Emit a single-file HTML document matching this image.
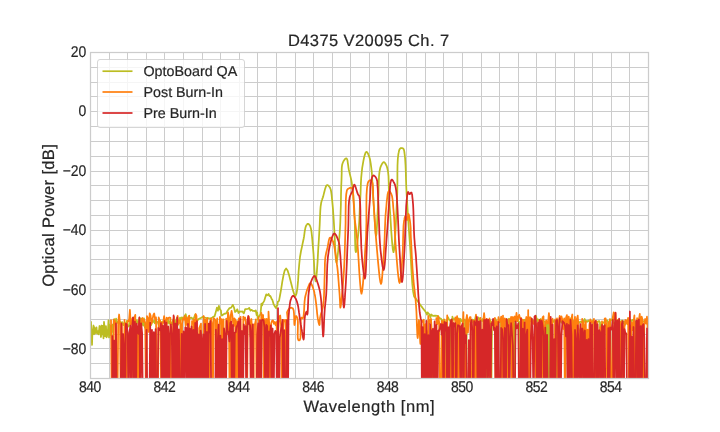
<!DOCTYPE html>
<html><head><meta charset="utf-8"><style>
html,body{margin:0;padding:0;background:#fff;}
svg{display:block;will-change:transform;}
text{font-family:"Liberation Sans",sans-serif;fill:#262626;stroke:#262626;stroke-width:0.2px;text-rendering:geometricPrecision;}
</style></head><body>
<svg width="720" height="432" viewBox="0 0 720 432">
<rect width="720" height="432" fill="#fff"/>
<path d="M90.50 52.5V378.5M109.50 52.5V378.5M127.50 52.5V378.5M146.50 52.5V378.5M164.50 52.5V378.5M183.50 52.5V378.5M202.50 52.5V378.5M220.50 52.5V378.5M239.50 52.5V378.5M257.50 52.5V378.5M276.50 52.5V378.5M295.50 52.5V378.5M313.50 52.5V378.5M332.50 52.5V378.5M350.50 52.5V378.5M369.50 52.5V378.5M388.50 52.5V378.5M406.50 52.5V378.5M425.50 52.5V378.5M443.50 52.5V378.5M462.50 52.5V378.5M481.50 52.5V378.5M499.50 52.5V378.5M518.50 52.5V378.5M536.50 52.5V378.5M555.50 52.5V378.5M574.50 52.5V378.5M592.50 52.5V378.5M611.50 52.5V378.5M629.50 52.5V378.5M648.50 52.5V378.5M90.5 52.50H648.5M90.5 67.50H648.5M90.5 82.50H648.5M90.5 96.50H648.5M90.5 111.50H648.5M90.5 126.50H648.5M90.5 141.50H648.5M90.5 156.50H648.5M90.5 171.50H648.5M90.5 185.50H648.5M90.5 200.50H648.5M90.5 215.50H648.5M90.5 230.50H648.5M90.5 245.50H648.5M90.5 259.50H648.5M90.5 274.50H648.5M90.5 289.50H648.5M90.5 304.50H648.5M90.5 319.50H648.5M90.5 334.50H648.5M90.5 348.50H648.5M90.5 363.50H648.5M90.5 378.50H648.5" stroke="#cccccc" stroke-width="1" fill="none"/>
<defs><clipPath id="ax"><rect x="90.5" y="52.5" width="558.0" height="326.0"/></clipPath></defs>
<g clip-path="url(#ax)" fill="none" stroke-width="1.75" stroke-linejoin="round" stroke-linecap="butt">
<path d="M88.0 334.5 L88.5 327.7 L89.0 345.3 L89.5 332.1 L90.0 337.3 L90.5 328.3 L91.0 321.9 L91.5 333.2 L92.0 344.9 L92.5 329.8 L93.0 330.5 L93.5 325.5 L94.0 334.3 L94.5 327.3 L95.0 333.5 L95.5 332.1 L96.0 330.8 L96.5 327.3 L97.0 333.5 L97.5 333.1 L98.0 331.1 L98.5 334.4 L99.0 330.6 L99.5 326.0 L100.0 326.6 L100.5 333.6 L101.0 337.0 L101.5 325.5 L102.0 334.5 L102.5 325.9 L103.0 329.6 L103.5 338.4 L104.0 321.8 L104.5 326.8 L105.0 336.2 L105.5 330.5 L106.0 326.2 L106.5 337.3 L107.0 336.3 L107.5 330.9 L108.0 329.2 L108.5 320.4 L109.0 337.4 L109.5 324.7 L110.0 335.0 L110.5 326.9 L111.0 325.8 L111.5 337.7 L112.0 328.3 L112.5 332.0 L112.5 324.6 L113.4 326.3 L114.3 319.2 L115.2 324.0 L116.1 318.7 L117.0 322.6 L117.9 322.3 L118.8 323.9 L119.7 321.7 L120.6 322.7 L121.5 322.6 L122.4 322.1 L123.3 325.2 L124.2 323.3 L125.1 323.2 L126.0 324.7 L126.9 320.8 L127.8 325.0 L128.7 326.5 L129.6 324.9 L130.5 318.8 L131.4 320.8 L132.3 323.7 L133.2 319.9 L134.1 322.9 L135.0 320.8 L135.9 322.8 L136.8 320.2 L137.7 322.8 L138.6 321.4 L139.5 317.6 L140.4 322.7 L141.3 318.7 L142.2 322.0 L143.1 325.6 L144.0 318.3 L144.9 327.7 L145.8 323.4 L146.7 324.8 L147.6 323.5 L148.5 319.1 L149.4 324.0 L150.3 324.9 L151.2 325.0 L152.1 321.8 L153.0 321.9 L153.9 320.7 L154.8 323.3 L155.7 318.7 L156.6 321.8 L157.5 321.8 L158.4 324.1 L159.3 322.3 L160.2 321.0 L161.1 322.4 L162.0 322.2 L162.9 322.6 L163.8 320.1 L164.7 319.9 L165.6 322.3 L166.5 323.1 L167.4 322.9 L168.3 320.0 L169.2 323.7 L170.1 321.4 L171.0 323.2 L171.9 324.3 L172.8 320.3 L173.7 325.3 L174.6 320.8 L175.5 322.9 L176.4 319.1 L177.3 320.7 L178.2 324.7 L180.0 317.7 L180.5 321.0 L181.8 317.3 L183.6 318.4 L185.7 314.2 L187.8 323.9 L189.7 318.0 L191.5 317.6 L193.3 319.6 L195.2 314.6 L197.1 320.9 L198.9 318.8 L200.8 318.1 L202.7 316.8 L204.7 317.5 L206.6 318.2 L208.5 318.2 L210.4 318.8 L212.0 317.8 L213.4 316.6 L214.6 316.3 L215.8 312.1 L216.9 307.7 L217.9 310.7 L218.9 305.9 L219.6 308.7 L220.3 309.8 L220.9 310.4 L221.5 315.5 L222.2 315.4 L223.0 314.7 L224.4 313.7 L226.0 313.6 L227.7 310.5 L229.5 308.1 L231.2 307.7 L232.8 304.8 L234.0 307.5 L235.1 312.0 L236.2 311.1 L237.3 309.3 L238.5 313.0 L239.7 311.4 L241.0 311.6 L242.4 311.4 L243.8 313.4 L245.2 309.0 L246.6 309.0 L248.0 308.9 L249.2 307.9 L250.5 310.6 L251.7 309.8 L252.9 311.0 L254.0 310.9 L255.0 311.3 L255.8 310.4 L256.6 315.2 L257.2 312.5 L257.8 319.7 L258.4 317.3 L259.0 316.6 L259.8 315.0 L260.4 314.7 L260.9 309.8 L261.4 303.7 L262.1 305.5 L262.8 303.0 L263.6 302.0 L264.4 300.3 L265.3 297.2 L266.2 294.4 L267.1 295.3 L268.0 294.8 L268.6 293.9 L269.2 295.6 L269.8 296.2 L270.4 296.0 L271.0 297.3 L271.5 298.7 L272.3 299.8 L273.0 302.0 L273.6 304.2 L274.3 305.4 L274.9 306.6 L275.6 307.6 L276.2 308.2 L276.7 305.6 L277.3 305.7 L277.9 301.5 L278.4 301.4 L279.0 300.9 L280.1 295.0 L281.2 288.8 L282.3 281.7 L283.5 275.2 L284.7 270.4 L286.1 268.5 L287.6 270.5 L289.2 275.6 L290.9 282.3 L292.6 288.9 L294.1 294.0 L295.4 296.0 L296.5 293.7 L297.4 288.1 L298.1 280.4 L298.6 271.8 L299.3 263.5 L300.0 257.0 L300.6 253.5 L301.2 250.2 L301.9 247.1 L302.5 244.1 L303.1 241.3 L303.7 238.5 L304.1 236.2 L304.4 233.8 L304.7 231.4 L305.1 229.3 L305.5 227.4 L306.0 226.0 L306.3 225.4 L306.6 224.9 L307.0 224.5 L307.3 224.1 L307.7 223.9 L308.0 223.8 L308.4 223.9 L308.8 224.2 L309.2 224.6 L309.6 225.1 L310.0 225.8 L310.3 226.5 L311.0 228.8 L311.5 231.9 L311.9 235.5 L312.3 239.6 L312.6 243.7 L313.0 247.8 L313.5 253.7 L313.9 260.9 L314.3 268.3 L314.7 274.9 L315.2 279.6 L315.6 281.4 L316.2 278.6 L316.9 271.3 L317.6 261.1 L318.2 249.7 L318.9 238.8 L319.4 230.0 L319.7 224.8 L319.9 219.8 L320.1 215.0 L320.3 210.6 L320.6 206.6 L321.1 203.3 L321.4 201.9 L321.7 200.7 L322.1 199.7 L322.4 198.6 L322.8 197.6 L323.2 196.4 L323.7 194.4 L324.3 192.0 L324.9 189.6 L325.6 187.4 L326.3 185.7 L327.0 185.0 L327.5 185.0 L328.0 185.3 L328.6 185.8 L329.1 186.5 L329.7 187.2 L330.1 188.0 L330.7 189.5 L331.1 191.3 L331.4 193.4 L331.7 195.7 L331.9 198.1 L332.2 200.6 L332.6 204.8 L333.0 209.4 L333.3 214.4 L333.7 219.6 L334.0 224.9 L334.3 230.0 L334.6 236.1 L335.0 243.2 L335.3 250.3 L335.6 256.5 L336.0 260.9 L336.4 262.6 L336.9 261.0 L337.5 256.8 L338.2 250.8 L338.8 243.8 L339.4 236.6 L339.9 230.0 L340.3 222.0 L340.6 213.2 L340.9 204.0 L341.0 195.1 L341.2 186.9 L341.5 180.0 L341.6 176.5 L341.7 173.2 L341.7 170.2 L341.8 167.5 L342.1 165.1 L342.7 163.0 L343.2 161.9 L343.8 160.7 L344.5 159.7 L345.2 158.9 L345.9 158.4 L346.4 158.3 L347.0 159.0 L347.5 160.6 L347.8 162.8 L348.2 165.3 L348.5 167.8 L348.9 170.0 L349.4 172.0 L349.8 173.9 L350.3 175.9 L350.8 177.9 L351.3 180.1 L351.7 182.5 L352.3 186.6 L352.8 191.1 L353.3 196.0 L353.7 201.2 L354.1 206.4 L354.4 211.7 L354.7 219.0 L354.9 227.7 L355.0 236.6 L355.2 244.4 L355.4 250.0 L355.8 252.2 L356.2 251.1 L356.7 248.2 L357.2 244.1 L357.7 239.3 L358.2 234.4 L358.6 230.0 L359.0 225.3 L359.3 220.4 L359.5 215.4 L359.7 210.2 L359.9 205.1 L360.2 200.0 L360.5 194.6 L360.7 188.9 L360.9 183.3 L361.2 177.7 L361.7 172.5 L362.2 167.8 L362.8 164.4 L363.4 160.9 L364.1 157.5 L364.9 154.6 L365.6 152.6 L366.4 151.8 L366.9 152.0 L367.4 152.6 L367.9 153.4 L368.3 154.5 L368.8 155.6 L369.2 156.7 L369.7 158.2 L370.1 159.8 L370.4 161.6 L370.7 163.5 L371.0 165.6 L371.3 167.8 L371.8 172.2 L372.1 177.2 L372.4 182.7 L372.7 188.5 L373.0 194.3 L373.4 200.0 L373.8 206.7 L374.3 214.4 L374.8 222.1 L375.2 228.9 L375.7 233.8 L376.1 235.6 L376.5 233.8 L376.8 228.9 L377.2 222.1 L377.5 214.4 L377.9 206.7 L378.2 200.0 L378.5 194.2 L378.6 188.1 L378.8 182.1 L379.0 176.5 L379.5 171.6 L380.3 167.8 L380.8 166.4 L381.4 165.1 L382.0 163.9 L382.6 163.0 L383.2 162.4 L383.8 162.2 L384.4 162.4 L385.0 163.0 L385.6 164.0 L386.2 165.1 L386.8 166.4 L387.2 167.8 L388.0 171.5 L388.5 176.2 L388.7 181.7 L388.8 187.7 L389.0 193.9 L389.3 200.0 L389.9 209.2 L390.6 220.4 L391.3 231.9 L392.1 242.1 L392.8 249.4 L393.5 252.2 L394.1 249.5 L394.8 242.5 L395.4 232.5 L396.0 221.0 L396.5 209.7 L397.0 200.0 L397.3 191.6 L397.4 182.8 L397.4 174.0 L397.5 165.8 L397.8 159.0 L398.4 153.9 L398.7 152.5 L398.9 151.3 L399.2 150.3 L399.5 149.4 L399.9 148.8 L400.4 148.3 L400.8 148.1 L401.3 148.0 L401.8 148.1 L402.3 148.2 L402.8 148.3 L403.2 148.6 L403.6 149.1 L403.9 149.8 L404.1 150.6 L404.3 151.5 L404.4 152.7 L404.6 153.9 L405.1 158.4 L405.5 164.6 L405.8 171.8 L406.0 179.6 L406.3 187.5 L406.7 195.0 L407.2 203.0 L407.7 211.3 L408.2 219.7 L408.8 228.1 L409.4 236.6 L410.0 245.0 L410.6 254.2 L411.1 264.4 L411.7 274.6 L412.3 283.9 L413.1 291.4 L414.0 296.0 L414.2 296.6 L414.5 297.0 L414.7 297.3 L415.0 297.6 L415.3 297.9 L415.6 298.3 L416.3 299.3 L417.1 300.4 L418.0 301.7 L418.9 303.0 L419.9 304.3 L420.8 305.6 L421.8 306.9 L422.8 308.2 L423.9 309.6 L424.9 310.8 L426.0 312.6 L427.0 314.6 L427.7 312.3 L428.3 313.4 L429.0 313.9 L429.7 314.9 L430.4 317.4 L431.2 314.5 L432.9 315.9 L435.1 315.7 L437.5 315.9 L439.6 318.1 L441.1 318.8 L441.7 320.6 L442.5 420.0 L443.4 319.6 L444.3 420.0 L445.2 322.0 L446.1 321.2 L447.0 320.0 L447.9 317.2 L448.8 319.0 L449.7 320.6 L450.6 320.0 L451.5 420.0 L452.4 316.7 L453.3 319.6 L454.2 319.0 L455.1 319.8 L456.0 317.9 L456.9 420.0 L457.8 323.3 L458.7 318.4 L459.6 323.1 L460.5 318.9 L461.4 320.8 L462.3 322.0 L463.2 321.1 L464.1 319.4 L465.0 320.4 L465.9 420.0 L466.8 319.7 L467.7 321.8 L468.6 322.2 L469.5 319.2 L470.4 321.1 L471.3 321.6 L472.2 319.5 L473.1 322.4 L474.0 319.8 L474.9 320.1 L475.8 315.7 L476.7 321.5 L477.6 320.8 L478.5 317.5 L479.4 318.7 L480.3 319.5 L481.2 319.8 L482.1 321.1 L483.0 318.8 L483.9 319.4 L484.8 320.5 L485.7 319.7 L486.6 420.0 L487.5 325.0 L488.4 320.9 L489.3 321.2 L490.2 320.3 L491.1 420.0 L492.0 322.3 L492.9 320.4 L493.8 319.9 L494.7 320.9 L495.6 319.0 L496.5 322.1 L497.4 420.0 L498.3 322.9 L499.2 321.8 L500.1 321.5 L501.0 320.3 L501.9 420.0 L502.8 319.5 L503.7 319.3 L504.6 321.9 L505.5 320.5 L506.4 319.3 L507.3 420.0 L508.2 319.6 L509.1 318.6 L510.0 321.1 L510.9 321.3 L511.8 321.0 L512.7 317.9 L513.6 323.3 L514.5 420.0 L515.4 320.4 L516.3 318.1 L517.2 320.6 L518.1 319.7 L519.0 322.2 L519.9 322.0 L520.8 420.0 L521.7 324.2 L522.6 319.7 L523.5 322.1 L524.4 319.7 L525.3 320.4 L526.2 320.1 L527.1 324.0 L528.0 420.0 L528.9 324.4 L529.8 320.6 L530.7 321.0 L531.6 320.6 L532.5 319.7 L533.4 320.8 L534.3 322.9 L535.2 320.4 L536.1 316.1 L537.0 321.4 L537.9 319.2 L538.8 320.7 L539.7 320.7 L540.6 319.0 L541.5 319.5 L542.4 321.0 L543.3 321.1 L544.2 321.6 L545.1 321.5 L546.0 420.0 L546.9 323.5 L547.8 420.0 L548.7 320.8 L549.6 321.6 L550.5 420.0 L551.4 320.5 L552.3 322.7 L553.2 321.9 L554.1 320.5 L555.0 321.8 L555.9 420.0 L556.8 323.2 L557.7 321.0 L558.6 320.4 L559.5 320.9 L560.4 320.2 L561.3 322.7 L562.2 319.9 L563.1 324.8 L564.0 323.5 L564.9 321.2 L565.8 323.9 L566.7 322.5 L567.6 324.2 L568.5 320.3 L569.4 321.3 L570.3 318.4 L571.2 321.2 L572.1 320.4 L573.0 320.6 L573.9 321.7 L574.8 323.3 L575.7 321.7 L576.6 322.1 L577.5 324.3 L578.4 322.8 L579.3 322.6 L580.2 321.7 L581.1 321.9 L582.0 322.4 L582.9 320.7 L583.8 322.2 L584.7 319.0 L585.6 322.1 L586.5 320.9 L587.4 321.7 L588.3 320.4 L589.2 321.1 L590.1 323.0 L591.0 321.9 L591.9 322.8 L592.8 320.4 L593.7 322.3 L594.6 323.3 L595.5 323.8 L596.4 321.4 L597.3 321.5 L598.2 321.8 L599.1 321.0 L600.0 322.2 L600.9 420.0 L601.8 324.3 L602.7 323.2 L603.6 322.4 L604.5 321.8 L605.4 321.3 L606.3 320.5 L607.2 320.4 L608.1 322.5 L609.0 420.0 L609.9 319.2 L610.8 320.6 L611.7 319.8 L612.6 318.5 L613.5 323.1 L614.4 322.3 L615.3 322.8 L616.2 323.7 L617.1 321.2 L618.0 319.9 L618.9 323.4 L619.8 322.4 L620.7 323.3 L621.6 320.6 L622.5 320.5 L623.4 323.3 L624.3 321.4 L625.2 324.6 L626.1 321.3 L627.0 323.2 L627.9 323.7 L628.8 321.9 L629.7 319.3 L630.6 320.8 L631.5 321.1 L632.4 319.8 L633.3 321.1 L634.2 322.8 L635.1 321.2 L636.0 420.0 L636.9 321.9 L637.8 323.5 L638.7 324.5 L639.6 321.7 L640.5 320.9 L641.4 320.6 L642.3 321.4 L643.2 321.5 L644.1 321.1 L645.0 321.4 L645.9 320.6 L646.8 322.4 L647.7 322.4 L648.6 420.0 L649.5 321.2 L650.4 323.0 L651.3 323.6" stroke="#bcbd22"/><path d="M111.0 319.6 L111.9 420.0 L112.8 420.0 L113.7 319.7 L114.6 320.6 L115.5 322.8 L116.4 420.0 L117.3 420.0 L118.2 322.0 L119.1 314.5 L120.0 323.2 L120.9 420.0 L121.8 323.8 L122.7 420.0 L123.6 420.0 L124.5 319.9 L125.4 420.0 L126.3 420.0 L127.2 324.3 L128.1 320.3 L129.0 321.1 L129.9 309.8 L130.8 324.5 L131.7 320.7 L132.6 317.9 L133.5 420.0 L134.4 317.5 L135.3 314.9 L136.2 420.0 L137.1 327.5 L138.0 420.0 L138.9 322.0 L139.8 420.0 L140.7 326.9 L141.6 319.4 L142.5 317.9 L143.4 322.0 L144.3 319.9 L145.2 323.1 L146.1 420.0 L147.0 316.1 L147.9 318.1 L148.8 332.0 L149.7 313.3 L150.6 315.5 L151.5 323.5 L152.4 319.8 L153.3 315.1 L154.2 313.4 L155.1 319.4 L156.0 317.4 L156.9 420.0 L157.8 420.0 L158.7 317.4 L159.6 320.2 L160.5 321.9 L161.4 420.0 L162.3 322.7 L163.2 322.8 L164.1 316.1 L165.0 319.7 L165.9 420.0 L166.8 317.7 L167.7 319.2 L168.6 317.9 L169.5 317.5 L170.4 317.9 L171.3 420.0 L172.2 420.0 L173.1 321.5 L174.0 316.8 L174.9 420.0 L175.8 420.0 L176.7 323.2 L177.6 315.8 L178.5 323.4 L179.4 321.4 L180.3 320.1 L181.2 420.0 L182.1 323.6 L183.0 318.5 L183.9 319.5 L184.8 315.8 L185.7 326.2 L186.6 317.9 L187.5 324.8 L188.4 316.8 L189.3 315.6 L190.2 420.0 L191.1 420.0 L192.0 321.1 L192.9 323.5 L193.8 319.3 L194.7 420.0 L195.6 314.0 L196.5 315.8 L197.4 420.0 L198.3 420.0 L199.2 328.2 L200.1 326.2 L201.0 323.6 L201.9 420.0 L202.8 420.0 L203.7 316.0 L204.6 328.2 L205.5 319.5 L206.4 420.0 L207.3 318.0 L208.2 420.0 L209.1 420.0 L210.0 322.7 L210.9 318.5 L211.8 322.9 L212.7 420.0 L213.6 318.0 L214.5 318.9 L215.4 320.3 L216.3 420.0 L217.2 318.4 L218.1 331.8 L219.0 420.0 L219.9 316.9 L220.8 323.5 L221.7 319.1 L222.6 420.0 L223.5 319.4 L224.4 420.0 L225.3 420.0 L226.2 318.6 L227.1 334.3 L228.0 312.4 L228.9 317.4 L229.8 420.0 L230.7 315.7 L231.6 310.9 L232.5 316.4 L233.4 326.4 L234.3 318.4 L235.2 319.5 L236.1 420.0 L237.0 321.0 L237.9 420.0 L238.8 318.5 L239.7 318.7 L240.6 316.8 L241.5 420.0 L242.4 420.0 L243.3 316.6 L244.2 319.6 L245.1 317.5 L246.0 324.8 L246.9 420.0 L247.8 319.2 L248.7 316.4 L249.6 320.7 L250.5 336.8 L251.4 319.0 L252.3 333.6 L253.2 420.0 L254.1 324.3 L255.0 324.1 L255.9 319.4 L256.8 420.0 L257.7 420.0 L258.6 317.2 L259.5 420.0 L260.4 420.0 L261.3 312.9 L262.2 319.6 L263.1 315.0 L264.0 420.0 L264.9 318.9 L265.8 420.0 L266.7 318.9 L267.6 420.0 L268.5 311.7 L269.4 326.8 L270.3 420.0 L271.2 323.3 L272.1 320.8 L273.0 320.4 L273.9 323.8 L274.8 322.0 L275.7 325.4 L276.6 322.0 L277.5 420.0 L278.4 328.9 L279.3 316.4 L280.2 315.5 L281.1 326.3 L282.0 420.0 L282.9 333.0 L283.8 319.8 L284.7 321.3 L285.6 320.0 L286.5 420.0 L287.4 319.6 L288.3 324.6 L287.0 312.4 L287.1 312.1 L287.5 311.3 L288.1 310.3 L288.7 309.3 L289.4 308.4 L290.0 307.9 L290.5 307.8 L291.0 307.7 L291.5 307.8 L292.1 308.0 L292.6 308.2 L293.0 308.6 L293.7 310.5 L294.0 313.7 L294.2 317.6 L294.2 321.2 L294.3 323.9 L294.5 325.0 L294.7 324.3 L294.9 322.7 L295.1 320.6 L295.4 318.4 L295.7 316.7 L296.0 316.0 L296.2 316.1 L296.5 316.4 L296.8 316.9 L297.1 317.5 L297.4 318.2 L297.6 319.0 L297.9 321.8 L297.9 325.8 L297.8 330.4 L297.7 334.7 L297.8 338.2 L298.3 340.0 L298.5 340.2 L298.8 340.3 L299.0 340.3 L299.3 340.3 L299.6 340.2 L299.8 340.0 L300.4 337.9 L300.6 333.7 L300.6 328.5 L300.6 323.4 L300.8 319.4 L301.3 317.6 L301.5 317.6 L301.8 317.8 L302.0 318.0 L302.3 318.2 L302.6 318.4 L302.8 318.4 L303.4 317.0 L303.8 314.0 L304.1 310.0 L304.3 305.6 L304.6 301.4 L305.0 298.0 L305.4 296.0 L305.9 294.1 L306.4 292.2 L306.9 290.5 L307.5 288.9 L308.0 287.5 L308.4 286.5 L308.8 285.5 L309.2 284.5 L309.6 283.7 L310.0 283.2 L310.4 283.0 L310.9 283.3 L311.4 284.0 L312.0 285.1 L312.5 286.4 L313.0 287.7 L313.4 289.0 L313.9 290.5 L314.3 292.2 L314.6 293.9 L315.0 295.7 L315.3 297.6 L315.6 299.6 L316.0 302.6 L316.4 306.0 L316.8 309.6 L317.1 313.1 L317.5 316.3 L317.9 319.0 L318.2 320.3 L318.4 321.7 L318.7 323.0 L319.0 324.0 L319.2 324.7 L319.4 325.0 L319.6 324.6 L319.7 323.7 L319.7 322.3 L319.8 320.7 L319.9 319.1 L320.1 317.6 L320.5 315.8 L321.0 313.8 L321.6 311.9 L322.2 309.7 L322.8 307.5 L323.2 305.0 L323.7 300.7 L324.0 295.7 L324.2 290.3 L324.4 284.9 L324.5 279.7 L324.7 275.0 L324.8 271.8 L324.8 268.7 L324.9 265.8 L324.9 263.0 L325.1 260.3 L325.3 257.8 L325.6 256.0 L325.9 254.3 L326.2 252.7 L326.6 251.2 L327.0 249.6 L327.4 248.0 L327.8 246.1 L328.2 243.8 L328.6 241.6 L329.0 239.7 L329.5 238.2 L330.1 237.6 L330.5 237.7 L331.0 238.1 L331.5 238.7 L332.0 239.5 L332.5 240.3 L332.9 241.1 L333.4 242.4 L333.8 243.8 L334.1 245.4 L334.4 247.1 L334.7 248.9 L335.0 250.8 L335.5 253.8 L336.0 257.1 L336.5 260.5 L336.9 264.2 L337.4 267.9 L337.8 271.7 L338.2 276.4 L338.6 281.5 L339.0 286.7 L339.4 291.7 L339.7 296.3 L339.9 300.0 L340.0 301.7 L340.1 303.5 L340.1 305.0 L340.2 306.4 L340.3 307.3 L340.4 307.6 L340.5 307.3 L340.7 306.4 L340.9 305.1 L341.1 303.5 L341.3 301.7 L341.5 300.0 L341.9 296.2 L342.3 291.6 L342.8 286.5 L343.2 281.1 L343.6 275.5 L344.0 270.0 L344.3 263.7 L344.6 257.1 L344.8 250.3 L345.0 243.5 L345.2 236.7 L345.4 230.0 L345.6 222.9 L345.6 215.1 L345.7 207.3 L345.8 200.2 L346.2 194.5 L346.8 190.8 L347.0 190.3 L347.2 189.8 L347.4 189.5 L347.6 189.2 L347.9 189.0 L348.2 188.8 L348.7 188.5 L349.3 188.2 L349.9 187.9 L350.6 187.8 L351.2 187.8 L351.7 188.0 L352.5 189.4 L353.0 191.8 L353.3 195.0 L353.4 198.5 L353.6 201.8 L353.8 204.7 L353.9 206.6 L354.0 208.4 L354.1 210.1 L354.1 211.9 L354.2 213.7 L354.4 215.8 L354.7 219.2 L355.2 222.8 L355.7 226.7 L356.2 230.9 L356.7 235.3 L357.2 240.0 L357.9 249.0 L358.6 260.3 L359.3 272.2 L360.1 283.0 L360.8 290.7 L361.5 293.7 L362.2 290.8 L363.0 283.3 L363.8 273.1 L364.5 261.9 L365.1 251.6 L365.6 243.9 L365.8 241.2 L365.9 238.9 L366.0 236.9 L366.1 234.9 L366.1 232.7 L366.2 230.0 L366.4 223.1 L366.4 214.2 L366.4 204.6 L366.5 195.4 L367.0 187.8 L367.8 183.0 L368.1 182.3 L368.4 181.6 L368.8 181.1 L369.1 180.7 L369.5 180.4 L369.9 180.3 L370.2 180.3 L370.6 180.4 L371.0 180.6 L371.4 180.9 L371.7 181.3 L372.0 181.7 L372.6 183.4 L372.9 185.9 L373.1 189.0 L373.1 192.4 L373.2 196.2 L373.4 200.0 L373.9 207.0 L374.4 215.2 L375.0 224.1 L375.6 233.1 L376.3 241.9 L377.0 250.0 L377.6 256.8 L378.3 264.3 L379.0 271.6 L379.7 277.9 L380.4 282.3 L381.0 283.9 L381.6 282.2 L382.1 277.7 L382.6 271.4 L383.1 264.0 L383.6 256.6 L384.0 250.0 L384.4 243.4 L384.7 236.4 L384.9 229.3 L385.2 222.4 L385.5 215.8 L386.0 210.0 L386.4 206.0 L386.7 201.8 L387.2 197.8 L387.6 194.4 L388.2 192.0 L388.9 191.0 L389.3 191.1 L389.7 191.4 L390.2 191.9 L390.6 192.6 L391.0 193.4 L391.4 194.2 L392.0 196.0 L392.4 198.3 L392.7 200.9 L393.0 203.7 L393.2 206.8 L393.5 210.0 L394.0 215.7 L394.4 222.1 L394.7 229.1 L395.1 236.3 L395.5 243.3 L396.0 250.0 L396.5 256.5 L397.1 263.7 L397.7 270.8 L398.4 277.0 L399.0 281.4 L399.6 283.0 L400.1 281.7 L400.6 278.1 L401.2 273.1 L401.7 267.2 L402.1 261.3 L402.5 256.0 L402.8 250.2 L403.0 243.9 L403.1 237.5 L403.3 231.4 L403.5 226.1 L403.9 222.0 L404.1 220.6 L404.4 219.2 L404.6 217.9 L404.9 216.9 L405.2 216.3 L405.5 216.0 L405.7 216.3 L406.0 217.0 L406.3 218.0 L406.5 219.0 L406.8 219.7 L407.0 220.0 L407.3 219.5 L407.5 218.4 L407.8 217.0 L408.0 215.5 L408.3 214.4 L408.5 214.0 L408.8 214.6 L409.2 216.0 L409.5 218.1 L409.9 220.5 L410.2 222.9 L410.4 225.0 L410.6 227.0 L410.7 228.9 L410.7 230.9 L410.7 232.9 L410.8 235.2 L410.9 237.7 L411.2 242.9 L411.5 249.0 L411.8 255.7 L412.2 262.6 L412.6 269.3 L413.1 275.6 L413.5 280.7 L414.0 285.6 L414.6 290.4 L415.1 295.2 L415.6 300.0 L416.0 305.0 L416.4 311.2 L416.7 318.3 L416.9 325.5 L417.2 331.8 L417.4 336.3 L417.7 338.0 L417.9 336.7 L418.1 333.3 L418.4 329.0 L418.6 324.7 L418.8 321.3 L419.0 320.0 L419.2 321.8 L419.5 326.2 L419.7 332.0 L420.0 337.8 L420.2 342.2 L420.4 344.0 L420.6 342.2 L420.9 337.8 L421.1 332.0 L421.3 326.2 L421.4 321.8 L421.5 320.0 L422.0 320.9 L422.9 321.8 L423.8 319.7 L424.7 420.0 L425.6 324.2 L426.5 332.7 L427.4 420.0 L428.3 315.8 L429.2 323.5 L430.1 319.8 L431.0 318.9 L431.9 333.6 L432.8 420.0 L433.7 420.0 L434.6 327.9 L435.5 420.0 L436.4 318.0 L437.3 324.2 L438.2 316.2 L439.1 322.0 L440.0 420.0 L440.9 420.0 L441.8 321.0 L442.7 321.4 L443.6 420.0 L444.5 319.5 L445.4 420.0 L446.3 420.0 L447.2 315.4 L448.1 420.0 L449.0 332.8 L449.9 420.0 L450.8 420.0 L451.7 322.4 L452.6 320.3 L453.5 420.0 L454.4 420.0 L455.3 317.3 L456.2 322.9 L457.1 316.2 L458.0 420.0 L458.9 319.0 L459.8 322.9 L460.7 420.0 L461.6 420.0 L462.5 330.6 L463.4 312.1 L464.3 420.0 L465.2 420.0 L466.1 320.1 L467.0 315.0 L467.9 332.6 L468.8 320.8 L469.7 317.4 L470.6 317.1 L471.5 420.0 L472.4 420.0 L473.3 320.3 L474.2 321.6 L475.1 420.0 L476.0 314.7 L476.9 420.0 L477.8 321.2 L478.7 326.0 L479.6 322.1 L480.5 317.8 L481.4 420.0 L482.3 420.0 L483.2 321.6 L484.1 313.1 L485.0 322.1 L485.9 320.3 L486.8 318.9 L487.7 322.6 L488.6 322.5 L489.5 318.5 L490.4 420.0 L491.3 326.8 L492.2 321.5 L493.1 324.7 L494.0 323.1 L494.9 317.9 L495.8 420.0 L496.7 321.4 L497.6 327.0 L498.5 317.1 L499.4 321.9 L500.3 320.7 L501.2 316.7 L502.1 420.0 L503.0 315.6 L503.9 420.0 L504.8 318.3 L505.7 320.7 L506.6 319.2 L507.5 420.0 L508.4 420.0 L509.3 319.3 L510.2 322.4 L511.1 316.8 L512.0 420.0 L512.9 317.0 L513.8 321.9 L514.7 316.5 L515.6 321.5 L516.5 312.9 L517.4 321.2 L518.3 317.3 L519.2 314.9 L520.1 318.6 L521.0 317.9 L521.9 420.0 L522.8 319.7 L523.7 324.8 L524.6 420.0 L525.5 321.8 L526.4 317.0 L527.3 420.0 L528.2 310.1 L529.1 420.0 L530.0 317.2 L530.9 317.9 L531.8 320.1 L532.7 322.9 L533.6 323.8 L534.5 320.1 L535.4 318.6 L536.3 420.0 L537.2 323.4 L538.1 420.0 L539.0 320.5 L539.9 420.0 L540.8 319.8 L541.7 420.0 L542.6 317.3 L543.5 316.3 L544.4 420.0 L545.3 326.1 L546.2 320.4 L547.1 322.4 L548.0 323.6 L548.9 313.1 L549.8 321.7 L550.7 329.2 L551.6 320.0 L552.5 318.8 L553.4 420.0 L554.3 420.0 L555.2 319.3 L556.1 325.1 L557.0 318.3 L557.9 420.0 L558.8 322.0 L559.7 315.9 L560.6 320.8 L561.5 316.4 L562.4 320.0 L563.3 329.0 L564.2 318.4 L565.1 420.0 L566.0 317.8 L566.9 315.1 L567.8 332.2 L568.7 316.7 L569.6 323.3 L570.5 420.0 L571.4 318.9 L572.3 314.5 L573.2 420.0 L574.1 322.3 L575.0 316.9 L575.9 420.0 L576.8 319.1 L577.7 315.6 L578.6 327.6 L579.5 332.0 L580.4 420.0 L581.3 420.0 L582.2 318.8 L583.1 322.0 L584.0 420.0 L584.9 324.6 L585.8 321.6 L586.7 420.0 L587.6 329.6 L588.5 420.0 L589.4 325.2 L590.3 319.3 L591.2 321.1 L592.1 322.9 L593.0 321.9 L593.9 318.9 L594.8 420.0 L595.7 420.0 L596.6 321.5 L597.5 323.7 L598.4 420.0 L599.3 420.0 L600.2 327.1 L601.1 420.0 L602.0 321.3 L602.9 420.0 L603.8 420.0 L604.7 318.7 L605.6 318.4 L606.5 327.1 L607.4 420.0 L608.3 322.6 L609.2 321.7 L610.1 319.3 L611.0 420.0 L611.9 420.0 L612.8 317.5 L613.7 312.4 L614.6 319.6 L615.5 313.0 L616.4 326.7 L617.3 420.0 L618.2 320.0 L619.1 420.0 L620.0 420.0 L620.9 321.4 L621.8 420.0 L622.7 323.6 L623.6 420.0 L624.5 327.4 L625.4 320.0 L626.3 320.4 L627.2 324.0 L628.1 317.8 L629.0 420.0 L629.9 325.3 L630.8 420.0 L631.7 322.3 L632.6 330.2 L633.5 322.4 L634.4 315.3 L635.3 420.0 L636.2 420.0 L637.1 318.2 L638.0 420.0 L638.9 319.6 L639.8 313.9 L640.7 420.0 L641.6 316.6 L642.5 319.6 L643.4 420.0 L644.3 324.7 L645.2 319.0 L646.1 323.7 L647.0 316.7 L647.9 331.2 L648.8 420.0 L649.7 320.3 L650.6 316.2 L651.5 318.1" stroke="#ff7f0e"/><path d="M112.2 420.0 L112.4 336.0 L113.3 420.0 L114.2 340.5 L115.1 420.0 L116.0 323.4 L116.9 420.0 L117.8 420.0 L118.7 420.0 L119.6 420.0 L120.5 420.0 L121.4 323.4 L122.3 420.0 L123.2 334.0 L124.1 345.6 L125.0 420.0 L125.9 323.7 L126.8 324.7 L127.7 333.0 L128.6 420.0 L129.5 332.7 L130.4 325.6 L131.3 420.0 L132.2 327.1 L133.1 317.4 L134.0 420.0 L134.9 321.7 L135.8 420.0 L136.7 323.7 L137.6 329.6 L138.5 333.8 L139.4 317.4 L140.3 420.0 L141.2 323.3 L142.1 332.9 L143.0 420.0 L143.9 420.0 L144.8 420.0 L145.7 420.0 L146.6 329.8 L147.5 420.0 L148.4 420.0 L149.3 420.0 L150.2 322.7 L151.1 420.0 L152.0 329.9 L152.9 420.0 L153.8 332.2 L154.7 420.0 L155.6 329.1 L156.5 420.0 L157.4 420.0 L158.3 328.0 L159.2 329.6 L160.1 330.4 L161.0 323.2 L161.9 420.0 L162.8 325.7 L163.7 420.0 L164.6 321.0 L165.5 420.0 L166.4 322.7 L167.3 420.0 L168.2 326.3 L169.1 420.0 L170.0 333.5 L170.9 324.3 L171.8 334.6 L172.7 420.0 L173.6 315.4 L174.5 420.0 L175.4 323.5 L176.3 420.0 L177.2 317.4 L178.1 420.0 L179.0 329.3 L179.9 420.0 L180.8 420.0 L181.7 333.8 L182.6 420.0 L183.5 331.4 L184.4 420.0 L185.3 327.5 L186.2 327.8 L187.1 420.0 L188.0 323.9 L188.9 420.0 L189.8 328.5 L190.7 420.0 L191.6 326.5 L192.5 420.0 L193.4 329.8 L194.3 420.0 L195.2 322.9 L196.1 420.0 L197.0 321.1 L197.9 420.0 L198.8 334.3 L199.7 420.0 L200.6 330.7 L201.5 338.3 L202.4 420.0 L203.3 334.3 L204.2 420.0 L205.1 323.9 L206.0 420.0 L206.9 331.8 L207.8 420.0 L208.7 323.6 L209.6 332.5 L210.5 321.0 L211.4 420.0 L212.3 420.0 L213.2 420.0 L214.1 420.0 L215.0 420.0 L215.9 329.6 L216.8 420.0 L217.7 342.3 L218.6 324.7 L219.5 420.0 L220.4 335.6 L221.3 420.0 L222.2 339.2 L223.1 420.0 L224.0 328.4 L224.9 333.9 L225.8 420.0 L226.7 320.9 L227.6 330.8 L228.5 332.2 L229.4 341.5 L230.3 322.9 L231.2 321.4 L232.1 420.0 L233.0 324.8 L233.9 420.0 L234.8 332.7 L235.7 332.4 L236.6 326.5 L237.5 325.4 L238.4 321.5 L239.3 420.0 L240.2 319.0 L241.1 420.0 L242.0 330.9 L242.9 420.0 L243.8 324.4 L244.7 334.0 L245.6 326.2 L246.5 420.0 L247.4 320.8 L248.3 316.0 L249.2 324.3 L250.1 325.2 L251.0 420.0 L251.9 331.0 L252.8 324.4 L253.7 420.0 L254.6 420.0 L255.5 420.0 L256.4 420.0 L257.3 334.2 L258.2 323.3 L259.1 420.0 L260.0 320.1 L260.9 420.0 L261.8 320.3 L262.7 319.7 L263.6 320.5 L264.5 327.4 L265.4 420.0 L266.3 324.9 L267.2 326.0 L268.1 420.0 L269.0 331.5 L269.9 335.5 L270.8 325.3 L271.7 420.0 L272.6 328.5 L273.5 420.0 L274.4 333.8 L275.3 330.9 L276.2 331.4 L277.1 420.0 L278.0 308.1 L278.9 420.0 L279.8 337.7 L280.7 331.5 L281.6 326.4 L282.5 319.9 L283.4 420.0 L284.3 330.2 L285.2 420.0 L286.1 420.0 L287.0 320.1 L287.9 420.0 L288.5 320.0 L288.5 319.4 L288.6 317.8 L288.7 315.6 L288.9 313.1 L289.1 310.7 L289.3 308.6 L289.5 307.0 L289.7 305.4 L289.9 303.8 L290.1 302.3 L290.4 300.8 L290.8 299.6 L291.1 298.8 L291.4 297.9 L291.8 297.1 L292.2 296.5 L292.6 296.0 L293.0 295.8 L293.4 295.9 L293.8 296.1 L294.2 296.5 L294.6 297.0 L294.9 297.5 L295.3 298.0 L295.8 298.8 L296.2 299.7 L296.6 300.7 L297.0 301.8 L297.3 302.9 L297.6 304.0 L297.9 305.3 L298.2 306.6 L298.4 308.0 L298.6 309.4 L298.8 310.9 L299.0 312.4 L299.3 314.2 L299.5 316.1 L299.8 318.1 L300.1 320.0 L300.3 321.9 L300.6 323.7 L300.8 325.0 L301.1 326.3 L301.3 327.5 L301.5 328.7 L301.8 329.9 L302.0 331.2 L302.3 332.8 L302.5 334.6 L302.8 336.4 L303.1 338.0 L303.4 339.1 L303.6 339.5 L303.9 338.1 L304.1 334.4 L304.2 329.5 L304.4 324.2 L304.6 319.4 L305.0 316.0 L305.2 314.9 L305.5 313.9 L305.8 313.0 L306.1 312.3 L306.4 311.8 L306.6 311.6 L306.7 311.8 L306.9 312.4 L307.0 313.1 L307.1 313.8 L307.2 314.4 L307.3 314.6 L307.6 313.3 L307.8 310.1 L308.0 305.6 L308.2 300.6 L308.4 295.8 L308.8 292.0 L309.1 290.0 L309.4 288.1 L309.7 286.3 L310.1 284.6 L310.6 283.0 L311.1 281.5 L311.6 280.3 L312.1 279.1 L312.7 277.9 L313.3 276.9 L313.8 276.2 L314.4 276.0 L315.1 276.5 L315.9 277.8 L316.6 279.7 L317.3 281.9 L318.0 284.0 L318.6 286.0 L319.1 287.9 L319.6 289.7 L320.0 291.6 L320.3 293.6 L320.6 295.7 L320.9 298.0 L321.3 302.0 L321.6 306.6 L321.8 311.5 L322.0 316.4 L322.2 321.0 L322.4 325.0 L322.5 327.5 L322.7 330.0 L322.8 332.5 L322.9 334.6 L323.1 336.0 L323.2 336.5 L323.4 335.1 L323.7 331.3 L323.9 326.1 L324.1 320.2 L324.4 314.6 L324.7 310.0 L324.9 307.3 L325.2 305.0 L325.4 302.7 L325.7 300.4 L325.9 297.9 L326.2 295.0 L326.5 288.7 L326.8 281.2 L327.0 273.0 L327.3 264.8 L327.9 257.2 L328.8 250.8 L329.5 247.0 L330.4 243.2 L331.3 239.5 L332.3 236.5 L333.3 234.3 L334.3 233.5 L335.0 233.8 L335.8 234.8 L336.6 236.2 L337.3 237.9 L338.0 239.6 L338.5 241.1 L338.9 242.5 L339.2 244.0 L339.4 245.4 L339.6 247.0 L339.7 248.8 L339.9 250.8 L340.4 256.0 L340.8 262.5 L341.3 269.7 L341.7 277.1 L342.1 284.1 L342.5 290.0 L342.7 293.7 L343.0 297.7 L343.2 301.4 L343.4 304.6 L343.7 306.8 L343.9 307.6 L344.1 306.8 L344.4 304.7 L344.6 301.7 L344.9 297.9 L345.1 293.9 L345.4 290.0 L345.9 281.9 L346.4 272.0 L346.9 261.1 L347.3 250.0 L347.8 239.3 L348.2 230.0 L348.4 223.8 L348.5 217.6 L348.6 211.8 L348.7 206.4 L349.0 201.7 L349.6 197.8 L350.0 196.3 L350.5 195.0 L351.0 193.9 L351.5 192.9 L352.0 191.9 L352.4 190.8 L352.8 189.6 L353.1 188.3 L353.4 186.9 L353.7 185.7 L354.0 184.9 L354.4 184.6 L354.9 185.2 L355.5 186.7 L356.1 188.7 L356.8 190.9 L357.4 192.9 L357.9 194.3 L358.2 194.7 L358.4 195.0 L358.6 195.3 L358.9 195.5 L359.1 195.9 L359.3 196.4 L359.9 199.7 L360.2 204.7 L360.4 210.9 L360.4 217.5 L360.5 224.1 L360.7 230.0 L360.9 234.8 L361.1 239.6 L361.2 244.3 L361.4 248.9 L361.7 253.4 L362.0 257.8 L362.4 261.9 L362.9 266.5 L363.4 271.0 L364.0 274.9 L364.5 277.6 L364.9 278.6 L365.4 276.6 L365.8 271.6 L366.1 264.6 L366.4 256.9 L366.7 249.6 L366.9 243.9 L367.0 241.3 L367.1 239.0 L367.2 236.9 L367.3 234.8 L367.4 232.5 L367.6 230.0 L367.9 225.6 L368.3 220.6 L368.7 215.3 L369.1 210.0 L369.5 204.8 L369.9 200.0 L370.1 196.3 L370.3 192.6 L370.4 189.0 L370.6 185.7 L370.9 182.8 L371.3 180.3 L371.6 179.2 L371.9 178.1 L372.2 177.1 L372.6 176.2 L373.0 175.7 L373.4 175.4 L373.9 175.5 L374.5 175.9 L375.1 176.5 L375.7 177.3 L376.2 178.1 L376.6 178.9 L376.9 179.9 L377.2 180.9 L377.3 182.0 L377.3 183.2 L377.4 184.5 L377.5 185.8 L377.7 187.8 L377.8 189.8 L377.9 192.0 L378.0 194.4 L378.1 197.1 L378.2 200.0 L378.5 206.8 L378.7 215.2 L379.1 224.5 L379.4 233.9 L379.9 242.6 L380.5 250.0 L381.0 254.3 L381.5 258.8 L382.1 263.1 L382.6 266.6 L383.2 269.1 L383.7 270.0 L384.2 268.5 L384.7 264.6 L385.2 259.0 L385.6 252.5 L386.1 245.9 L386.5 240.0 L387.0 233.5 L387.5 226.5 L388.0 219.4 L388.4 212.4 L388.9 205.8 L389.3 200.0 L389.5 196.3 L389.7 192.7 L389.9 189.3 L390.1 186.2 L390.3 183.6 L390.7 181.7 L390.9 181.2 L391.0 180.7 L391.2 180.3 L391.4 179.9 L391.6 179.7 L391.8 179.6 L392.1 179.8 L392.6 180.2 L393.0 180.8 L393.4 181.6 L393.8 182.3 L394.2 183.0 L394.5 183.6 L394.8 184.3 L395.0 184.9 L395.2 185.6 L395.4 186.4 L395.6 187.2 L395.9 188.8 L396.2 190.6 L396.4 192.6 L396.6 194.8 L396.8 197.3 L397.0 200.0 L397.4 206.6 L397.8 214.6 L398.2 223.6 L398.6 232.9 L399.0 241.9 L399.5 250.0 L399.9 256.5 L400.3 263.6 L400.7 270.4 L401.2 276.3 L401.6 280.5 L402.0 282.0 L402.4 280.5 L402.9 276.3 L403.3 270.4 L403.7 263.6 L404.1 256.5 L404.5 250.0 L404.9 241.8 L405.2 232.6 L405.6 223.0 L405.9 213.9 L406.2 206.0 L406.7 200.0 L406.9 198.1 L407.1 196.3 L407.3 194.6 L407.5 193.3 L407.8 192.4 L408.1 192.0 L408.3 192.1 L408.5 192.5 L408.7 193.0 L409.0 193.6 L409.2 194.0 L409.5 194.2 L409.8 194.1 L410.1 193.8 L410.4 193.3 L410.7 192.9 L411.0 192.6 L411.3 192.5 L411.7 192.9 L411.9 193.8 L412.2 195.0 L412.3 196.6 L412.5 198.3 L412.7 200.0 L413.1 204.8 L413.4 210.9 L413.6 217.8 L413.8 225.0 L414.0 231.8 L414.3 237.7 L414.6 241.2 L414.8 244.3 L415.1 247.3 L415.4 250.2 L415.7 253.4 L416.0 257.0 L416.4 263.5 L416.9 271.0 L417.4 279.0 L417.9 286.9 L418.3 294.1 L418.7 300.0 L418.9 302.6 L419.0 305.0 L419.2 307.1 L419.4 309.1 L419.6 311.1 L419.8 313.0 L420.1 314.8 L420.4 316.8 L420.8 318.7 L421.2 320.4 L421.4 321.6 L421.5 322.0 L422.0 420.0 L422.9 327.2 L423.8 420.0 L424.7 334.2 L425.6 420.0 L426.5 320.9 L427.4 420.0 L428.3 335.2 L429.2 420.0 L430.1 324.2 L431.0 420.0 L431.9 330.7 L432.8 328.8 L433.7 420.0 L434.6 321.4 L435.5 420.0 L436.4 324.9 L437.3 420.0 L438.2 330.7 L439.1 330.9 L440.0 327.7 L440.9 323.9 L441.8 334.6 L442.7 324.4 L443.6 420.0 L444.5 322.0 L445.4 330.7 L446.3 322.6 L447.2 420.0 L448.1 327.1 L449.0 420.0 L449.9 327.2 L450.8 321.2 L451.7 319.3 L452.6 420.0 L453.5 323.0 L454.4 326.4 L455.3 323.2 L456.2 420.0 L457.1 334.0 L458.0 325.2 L458.9 325.8 L459.8 326.0 L460.7 420.0 L461.6 326.5 L462.5 323.6 L463.4 420.0 L464.3 328.2 L465.2 343.1 L466.1 335.1 L467.0 420.0 L467.9 420.0 L468.8 340.2 L469.7 420.0 L470.6 324.1 L471.5 320.0 L472.4 330.4 L473.3 420.0 L474.2 321.2 L475.1 324.2 L476.0 325.2 L476.9 316.9 L477.8 420.0 L478.7 321.5 L479.6 420.0 L480.5 321.0 L481.4 420.0 L482.3 329.7 L483.2 420.0 L484.1 319.9 L485.0 420.0 L485.9 320.0 L486.8 319.3 L487.7 420.0 L488.6 319.8 L489.5 329.8 L490.4 420.0 L491.3 323.3 L492.2 325.1 L493.1 318.8 L494.0 330.3 L494.9 328.0 L495.8 420.0 L496.7 326.4 L497.6 420.0 L498.5 322.0 L499.4 420.0 L500.3 420.0 L501.2 328.0 L502.1 329.2 L503.0 339.3 L503.9 420.0 L504.8 328.0 L505.7 420.0 L506.6 319.2 L507.5 326.0 L508.4 325.1 L509.3 420.0 L510.2 337.7 L511.1 323.1 L512.0 334.1 L512.9 345.7 L513.8 420.0 L514.7 420.0 L515.6 321.5 L516.5 328.4 L517.4 327.4 L518.3 323.1 L519.2 420.0 L520.1 420.0 L521.0 318.6 L521.9 420.0 L522.8 328.7 L523.7 420.0 L524.6 322.3 L525.5 420.0 L526.4 334.6 L527.3 329.7 L528.2 420.0 L529.1 420.0 L530.0 420.0 L530.9 335.4 L531.8 318.6 L532.7 340.4 L533.6 420.0 L534.5 316.5 L535.4 315.6 L536.3 327.7 L537.2 420.0 L538.1 322.3 L539.0 420.0 L539.9 320.0 L540.8 420.0 L541.7 320.9 L542.6 326.2 L543.5 335.6 L544.4 420.0 L545.3 327.6 L546.2 420.0 L547.1 334.8 L548.0 420.0 L548.9 420.0 L549.8 420.0 L550.7 316.9 L551.6 420.0 L552.5 324.6 L553.4 420.0 L554.3 339.2 L555.2 420.0 L556.1 320.9 L557.0 319.9 L557.9 326.7 L558.8 420.0 L559.7 318.1 L560.6 420.0 L561.5 335.8 L562.4 321.1 L563.3 321.9 L564.2 323.1 L565.1 326.1 L566.0 336.4 L566.9 323.8 L567.8 420.0 L568.7 325.0 L569.6 420.0 L570.5 319.8 L571.4 334.6 L572.3 420.0 L573.2 420.0 L574.1 420.0 L575.0 329.9 L575.9 339.4 L576.8 420.0 L577.7 325.3 L578.6 343.8 L579.5 420.0 L580.4 324.0 L581.3 420.0 L582.2 328.5 L583.1 332.2 L584.0 420.0 L584.9 330.5 L585.8 420.0 L586.7 339.9 L587.6 420.0 L588.5 339.1 L589.4 420.0 L590.3 322.9 L591.2 420.0 L592.1 324.3 L593.0 420.0 L593.9 420.0 L594.8 322.2 L595.7 320.8 L596.6 420.0 L597.5 324.3 L598.4 420.0 L599.3 330.2 L600.2 332.4 L601.1 420.0 L602.0 324.9 L602.9 420.0 L603.8 326.4 L604.7 325.3 L605.6 420.0 L606.5 420.0 L607.4 420.0 L608.3 328.2 L609.2 420.0 L610.1 327.3 L611.0 329.8 L611.9 327.6 L612.8 319.9 L613.7 420.0 L614.6 328.9 L615.5 312.6 L616.4 420.0 L617.3 320.7 L618.2 420.0 L619.1 318.7 L620.0 420.0 L620.9 420.0 L621.8 324.3 L622.7 321.1 L623.6 420.0 L624.5 329.2 L625.4 333.3 L626.3 333.4 L627.2 420.0 L628.1 420.0 L629.0 420.0 L629.9 311.5 L630.8 420.0 L631.7 336.7 L632.6 420.0 L633.5 327.0 L634.4 420.0 L635.3 420.0 L636.2 320.8 L637.1 320.7 L638.0 420.0 L638.9 319.5 L639.8 420.0 L640.7 326.1 L641.6 420.0 L642.5 325.5 L643.4 324.3 L644.3 337.6 L645.2 420.0 L646.1 420.0 L647.0 328.5 L647.9 420.0 L648.8 323.7 L649.7 316.6 L650.6 420.0 L651.5 320.2" stroke="#d62728"/>
</g>
<rect x="90.5" y="52.5" width="558.0" height="326.0" fill="none" stroke="#cccccc" stroke-width="1.25"/>
<g>
<rect x="97.5" y="59.5" width="147" height="68" rx="2.5" fill="#fff" fill-opacity="0.8" stroke="#cccccc" stroke-opacity="0.8" stroke-width="1"/>
<path d="M102.5 71.2H132.5" stroke="#bcbd22" stroke-width="1.7"/>
<path d="M102.5 92H132.5" stroke="#ff7f0e" stroke-width="1.7"/>
<path d="M102.5 113H132.5" stroke="#d62728" stroke-width="1.7"/>
<text x="143.50" y="76.20" font-size="14.3" text-anchor="start" >OptoBoard QA</text>
<text x="143.50" y="97.00" font-size="14.3" text-anchor="start" >Post Burn-In</text>
<text x="143.50" y="118.00" font-size="14.3" text-anchor="start" >Pre Burn-In</text>
</g>
<text transform="translate(89.90 391.50) scale(0.9 1)" x="0" y="0" font-size="15.5" text-anchor="middle" style="letter-spacing:-0.6px">840</text><text transform="translate(164.30 391.50) scale(0.9 1)" x="0" y="0" font-size="15.5" text-anchor="middle" style="letter-spacing:-0.6px">842</text><text transform="translate(238.70 391.50) scale(0.9 1)" x="0" y="0" font-size="15.5" text-anchor="middle" style="letter-spacing:-0.6px">844</text><text transform="translate(313.10 391.50) scale(0.9 1)" x="0" y="0" font-size="15.5" text-anchor="middle" style="letter-spacing:-0.6px">846</text><text transform="translate(387.50 391.50) scale(0.9 1)" x="0" y="0" font-size="15.5" text-anchor="middle" style="letter-spacing:-0.6px">848</text><text transform="translate(461.90 391.50) scale(0.9 1)" x="0" y="0" font-size="15.5" text-anchor="middle" style="letter-spacing:-0.6px">850</text><text transform="translate(536.30 391.50) scale(0.9 1)" x="0" y="0" font-size="15.5" text-anchor="middle" style="letter-spacing:-0.6px">852</text><text transform="translate(610.70 391.50) scale(0.9 1)" x="0" y="0" font-size="15.5" text-anchor="middle" style="letter-spacing:-0.6px">854</text><text transform="translate(86.30 57.00) scale(0.9 1)" x="0" y="0" font-size="15.5" text-anchor="end">20</text><text transform="translate(86.30 116.47) scale(0.9 1)" x="0" y="0" font-size="15.5" text-anchor="end">0</text><text transform="translate(86.30 175.95) scale(0.9 1)" x="0" y="0" font-size="15.5" text-anchor="end">−20</text><text transform="translate(86.30 235.42) scale(0.9 1)" x="0" y="0" font-size="15.5" text-anchor="end">−40</text><text transform="translate(86.30 294.89) scale(0.9 1)" x="0" y="0" font-size="15.5" text-anchor="end">−60</text><text transform="translate(86.30 354.36) scale(0.9 1)" x="0" y="0" font-size="15.5" text-anchor="end">−80</text><text x="368.50" y="45.50" font-size="16.5" text-anchor="middle" textLength="161.125" lengthAdjust="spacing" >D4375 V20095 Ch. 7</text><text x="369.00" y="411.70" font-size="16.5" text-anchor="middle" textLength="131.2" lengthAdjust="spacing" >Wavelength [nm]</text><text transform="translate(53.7 215.5) rotate(-90)" x="0" y="0" font-size="16.5" text-anchor="middle" textLength="142.64" lengthAdjust="spacing">Optical Power [dB]</text>
</svg>
</body></html>
